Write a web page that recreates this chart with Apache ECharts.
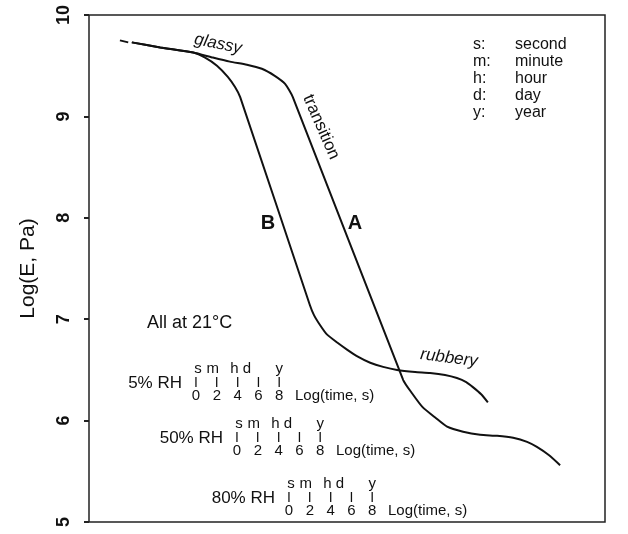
<!DOCTYPE html>
<html>
<head>
<meta charset="utf-8">
<script src="https://cdn.jsdelivr.net/npm/echarts@6/dist/echarts.min.js"></script>
<style>
html,body{margin:0;padding:0;background:#fff;}
#c{width:628px;height:534px;}
</style>
</head>
<body>
<div id="c"></div>
<script>
// ---- data (x: arbitrary log-time units 0..10, y: Log(E, Pa)) ----
const leadX = [0.60, 0.76];
const leadY = [9.75, 9.73];

const curveBX = [0.83, 1.38, 2.02, 2.25, 2.48, 2.69, 2.83, 2.93, 4.28, 4.36, 4.48, 4.61, 4.81, 5.00, 5.21, 5.45, 5.70, 5.97, 6.32, 6.61, 6.90, 7.13, 7.31, 7.44, 7.60, 7.73];
const curveBY = [9.73, 9.68, 9.63, 9.58, 9.50, 9.39, 9.29, 9.19, 7.14, 7.04, 6.94, 6.85, 6.77, 6.70, 6.63, 6.57, 6.53, 6.50, 6.48, 6.47, 6.45, 6.42, 6.38, 6.33, 6.26, 6.18];

const curveAX = [0.83, 1.38, 2.02, 2.40, 2.73, 3.06, 3.35, 3.60, 3.80, 3.95, 6.09, 6.26, 6.47, 6.71, 6.94, 7.25, 7.58, 7.91, 8.22, 8.49, 8.68, 8.91, 9.13];
const curveAY = [9.73, 9.68, 9.63, 9.58, 9.54, 9.51, 9.47, 9.40, 9.32, 9.19, 6.40, 6.27, 6.13, 6.03, 5.94, 5.89, 5.86, 5.85, 5.83, 5.79, 5.74, 5.66, 5.56];

const yTicks = [5, 6, 7, 8, 9, 10];

const unitKeys = ['s:', 'm:', 'h:', 'd:', 'y:'];
const unitNames = ['second', 'minute', 'hour', 'day', 'year'];

const rhLabels = ['5% RH', '50% RH', '80% RH'];
const scaleTicks = [0, 2, 4, 6, 8];
const unitLetters = ['s', 'm', 'h', 'd', 'y'];
const unitLetterPos = [0.2, 1.6, 3.7, 4.9, 8.0];
const scaleTitle = 'Log(time, s)';

// ---- layout ----
const FONT = '"Liberation Sans", Arial, Helvetica, sans-serif';
const rhZeroX = [196, 237, 289];
const rhRowY = [383, 438, 498];
const PX_PER_UNIT = 10.4;

const toXY = (xs, ys) => xs.map((x, i) => [x, ys[i]]);

const graphics = [];
function txt(t, x, y, size, opts) {
  opts = opts || {};
  graphics.push({
    type: 'text', x: x, y: y, rotation: opts.rotation || 0, z: 100,
    style: {
      text: t,
      font: (opts.style || '') + ' ' + (opts.weight || 'normal') + ' ' + size + 'px ' + FONT,
      fill: '#111',
      textAlign: opts.align || 'left',
      textVerticalAlign: 'middle'
    }
  });
}

// region labels
txt('glassy', 218, 44, 17, {style: 'italic', align: 'center', rotation: -0.2});
txt('transition', 321, 127, 17, {align: 'center', rotation: -1.16});
txt('rubbery', 449, 358, 17, {style: 'italic', align: 'center', rotation: -0.13});
txt('B', 268, 223, 20, {weight: 'bold', align: 'center'});
txt('A', 355, 223, 20, {weight: 'bold', align: 'center'});
txt('All at 21\u00B0C', 147, 323, 18, {});

// units legend
unitKeys.forEach((k, i) => {
  txt(k, 473, 45 + i * 16.8, 16, {});
  txt(unitNames[i], 515, 45 + i * 16.8, 16, {});
});

// RH time scales
rhLabels.forEach((lab, b) => {
  const x0 = rhZeroX[b], y0 = rhRowY[b];
  txt(lab, x0 - 14, y0, 17, {align: 'right'});
  scaleTicks.forEach(v => {
    txt('I', x0 + v * PX_PER_UNIT, y0, 14, {align: 'center'});
    txt(String(v), x0 + v * PX_PER_UNIT, y0 + 13, 15, {align: 'center'});
  });
  unitLetters.forEach((u, i) => {
    txt(u, x0 + unitLetterPos[i] * PX_PER_UNIT, y0 - 14, 15, {align: 'center'});
  });
  txt(scaleTitle, x0 + 99, y0 + 13, 15, {});
});

const lineStyle = {color: '#111', width: 2};

const option = {
  animation: false,
  backgroundColor: '#fff',
  grid: {
    left: 89, right: 23, top: 15, bottom: 12,
    show: true, borderColor: '#222', borderWidth: 1.5, backgroundColor: 'transparent'
  },
  xAxis: {
    type: 'value', min: 0, max: 10, show: false
  },
  yAxis: {
    type: 'value', min: 5, max: 10, interval: 1, offset: 6,
    axisLine: {show: false},
    axisTick: {show: true, length: 5, lineStyle: {color: '#222', width: 2}},
    splitLine: {show: false},
    axisLabel: {
      rotate: 90, margin: 10, color: '#111',
      fontSize: 18, fontWeight: 'bold', fontFamily: FONT,
      formatter: v => yTicks.includes(v) ? String(v) : ''
    },
    name: 'Log(E, Pa)', nameLocation: 'middle', nameGap: 44,
    nameTextStyle: {fontSize: 21, color: '#111', fontFamily: FONT}
  },
  series: [
    {type: 'line', data: toXY(leadX, leadY), showSymbol: false, lineStyle: lineStyle, silent: true},
    {name: 'B', type: 'line', data: toXY(curveBX, curveBY), smooth: 0.2, showSymbol: false, lineStyle: lineStyle, silent: true},
    {name: 'A', type: 'line', data: toXY(curveAX, curveAY), smooth: 0.2, showSymbol: false, lineStyle: lineStyle, silent: true}
  ],
  graphic: graphics
};

const chart = echarts.init(document.getElementById('c'), null, {renderer: 'canvas'});
chart.setOption(option);
</script>
</body>
</html>
